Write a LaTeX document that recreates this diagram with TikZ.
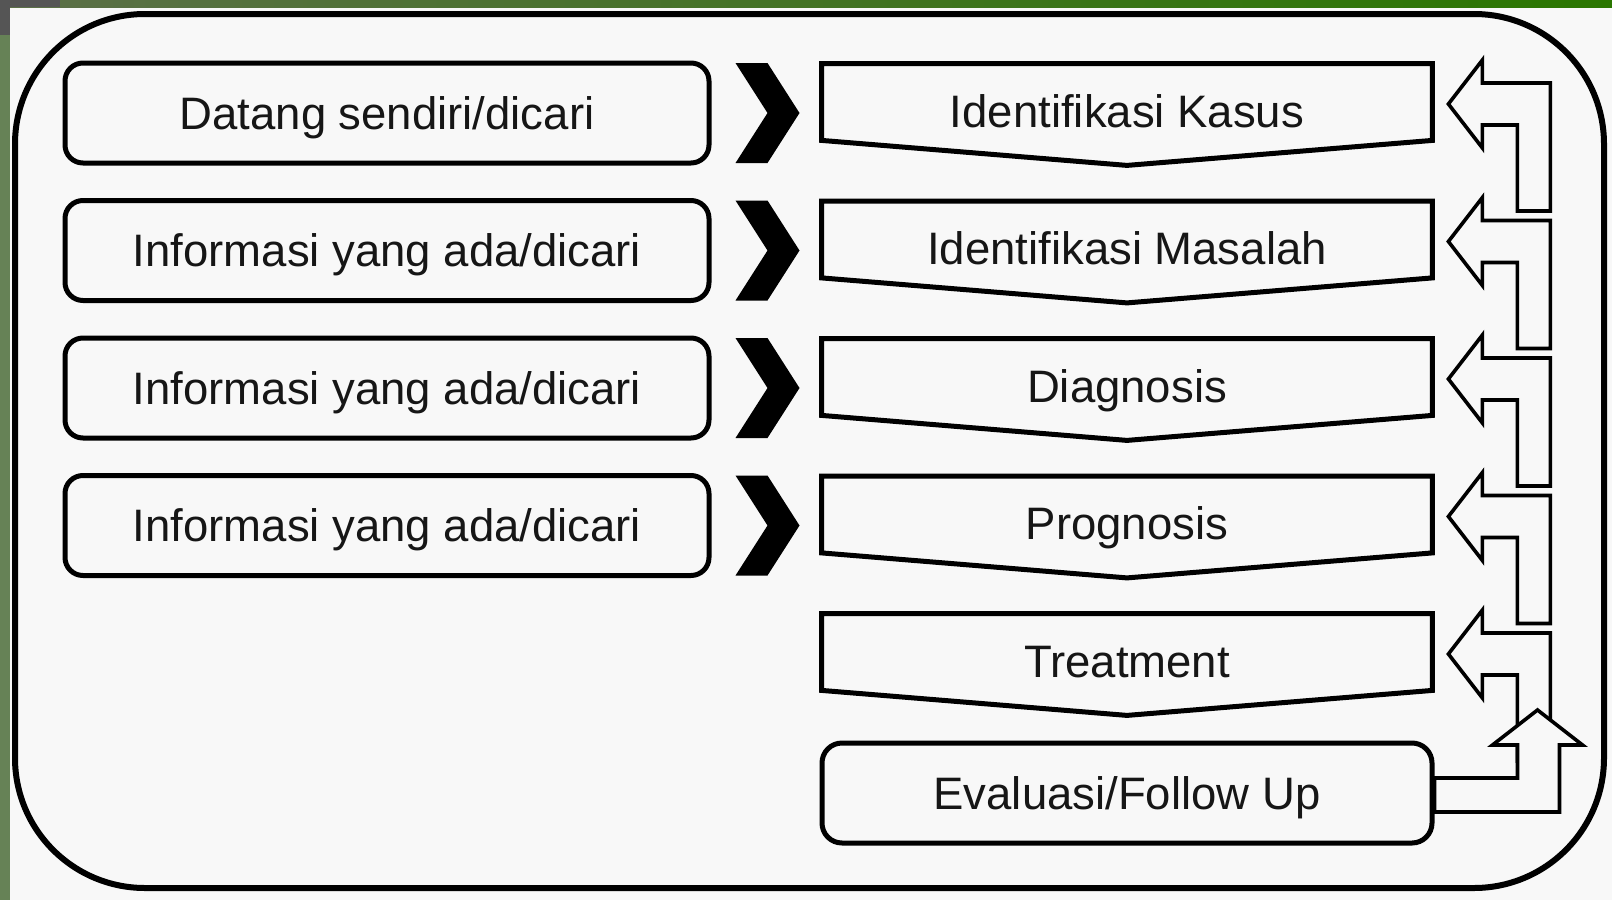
\documentclass[tikz,border=0pt]{standalone}
\usepackage{fontspec}
\setmainfont{Liberation Sans}
\usetikzlibrary{calc}
\definecolor{paper}{RGB}{248,248,248}
\definecolor{ink}{RGB}{22,22,22}
\definecolor{leafL}{RGB}{92,112,72}
\definecolor{leafM}{RGB}{32,90,4}
\definecolor{leafR}{RGB}{42,118,0}
\definecolor{side}{RGB}{102,130,86}
\definecolor{slate}{RGB}{85,85,85}
\begin{document}
\begin{tikzpicture}[x=0.5pt,y=-0.5pt,
  txt/.style={font=\fontsize{22.75pt}{27pt}\selectfont, text=ink,
    text height=16.3pt, text depth=0pt, inner sep=0pt},
  srcbox/.style={txt, draw, line width=2.5pt, rounded corners=9pt,
    minimum width=322pt, minimum height=50pt},
  stagebox/.style={txt, minimum width=305pt, minimum height=50.5pt, text depth=3.5pt},
  endbox/.style={txt, draw, line width=2.5pt, rounded corners=10pt,
    minimum width=305pt, minimum height=50pt},
  stageline/.style={line width=2.5pt, line join=miter},
  chev/.style={fill=black},
  back/.style={draw=black, fill=paper, line width=1.8pt, line join=miter}]

% page and frame
\useasboundingbox (0,0) rectangle (1612,900);
\fill[paper] (0,0) rectangle (1612,900);
\shade[left color=leafL, middle color=leafM, right color=leafR] (0,0) rectangle (1612,7);
\fill[side] (0,0) rectangle (10,900);
\fill[slate] (0,0) rectangle (10,35);
\fill[slate] (0,0) rectangle (60,7);
\draw[line width=3pt, rounded corners=65pt] (15,14) rectangle (1604,888);

% sources on the left
\foreach \i/\lab in {1/{Datang sendiri/dicari},2/{Informasi yang ada/dicari},
                     3/{Informasi yang ada/dicari},4/{Informasi yang ada/dicari}} {
  \pgfmathsetmacro\cy{113+137.5*(\i-1)}
  \node[srcbox] (src\i) at (387,\cy) {\lab};
}

% stages on the right
\foreach \i/\lab in {1/Identifikasi Kasus,2/Identifikasi Masalah,3/Diagnosis,
                     4/Prognosis,5/Treatment} {
  \pgfmathsetmacro\cy{113+137.5*(\i-1)+1.5}
  \node[stagebox] (st\i) at (1127,\cy) {\lab};
  \draw[stageline] (st\i.north west) -- (st\i.north east)
    -- ([yshift=12.5pt]st\i.south east) -- (st\i.south)
    -- ([yshift=12.5pt]st\i.south west) -- cycle;
}
\node[endbox] (eval) at (1127,793) {Evaluasi/Follow Up};

% chevrons from each source to its stage
\foreach \i in {1,...,4} {
  \fill[chev] ($(src\i.east)+(24,-50)$) -- ($(src\i.east)+(56,-50)$)
    -- ($(src\i.east)+(88,0)$) -- ($(src\i.east)+(56,50)$)
    -- ($(src\i.east)+(24,50)$) -- ($(src\i.east)+(56,0)$) -- cycle;
}

% bent feedback arrows into each stage
\foreach \i in {1,...,5} {
  \coordinate (e\i) at ([yshift=0.75pt]st\i.east);
  \draw[back] ($(e\i)+(16,-9)$) -- ($(e\i)+(50,-53)$) -- ($(e\i)+(50,-30)$)
    -- ($(e\i)+(118,-30)$) -- ($(e\i)+(118,98)$) -- ($(e\i)+(85,98)$)
    -- ($(e\i)+(85,12)$) -- ($(e\i)+(50,12)$) -- ($(e\i)+(50,35)$) -- cycle;
}

% arrow leaving the evaluation box upwards
\draw[back] ($(eval.east)+(0,-15)$) -- ($(eval.east)+(83,-15)$)
  -- ($(eval.east)+(83,-48)$) -- ($(eval.east)+(58,-48)$)
  -- ($(eval.east)+(103,-83)$) -- ($(eval.east)+(148,-48)$)
  -- ($(eval.east)+(125,-48)$) -- ($(eval.east)+(125,19)$)
  -- ($(eval.east)+(0,19)$) -- cycle;
\end{tikzpicture}
\end{document}
